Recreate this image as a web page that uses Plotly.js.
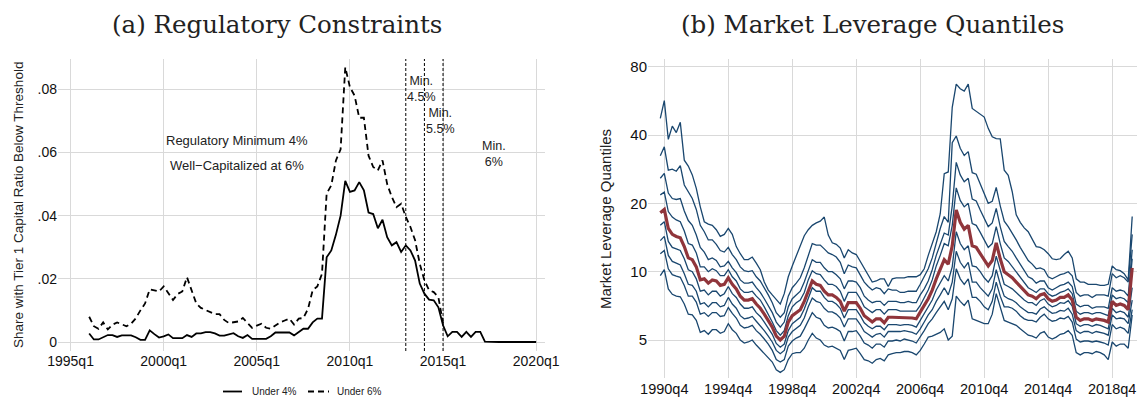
<!DOCTYPE html>
<html>
<head>
<meta charset="utf-8">
<script src="https://cdn.plot.ly/plotly-3.0.1.min.js"></script>
<style>html,body{margin:0;padding:0;background:#fff;}#chart{width:1137px;height:401px;}</style>
</head>
<body>
<div id="chart"></div>
<script>
// ---------- Panel (a): share of banks below thresholds (quarterly) ----------
const under4Start = '1996q1';
const under4 = [
0.0027,0.0008,0.0008,0.0015,0.0022,0.0022,0.0016,0.0021,0.0021,0.0021,
0.0015,0.0007,0.0007,0.0037,0.0025,0.0014,0.0018,0.0024,0.0012,0.0012,
0.0012,0.0022,0.0016,0.0027,0.0027,0.0031,0.0031,0.0027,0.0020,0.0020,
0.0024,0.0028,0.0018,0.0013,0.0022,0.0010,0.0010,0.0010,0.0010,0.0018,
0.0030,0.0030,0.0030,0.0030,0.0021,0.0032,0.0042,0.0042,0.0062,0.0074,
0.0074,0.0268,0.0290,0.0340,0.0400,0.0510,0.0475,0.0480,0.0506,0.0480,
0.0410,0.0405,0.0360,0.0387,0.0332,0.0306,0.0316,0.0285,0.0306,0.0290,
0.0258,0.0185,0.0153,0.0134,0.0132,0.0110,0.0053,0.0018,0.0032,0.0032,
0.0016,0.0032,0.0016,0.0032,0.0032,0.0001,0,0,0,0,
0,0,0,0,0,0,0];
const under6Start = '1996q1';
const under6 = [
0.0080,0.0050,0.0042,0.0062,0.0040,0.0055,0.0062,0.0055,0.0050,0.0058,
0.0075,0.0100,0.0122,0.0167,0.0164,0.0160,0.0176,0.0155,0.0133,0.0152,
0.0160,0.0205,0.0165,0.0122,0.0108,0.0102,0.0095,0.0088,0.0088,0.0070,
0.0060,0.0062,0.0065,0.0076,0.0060,0.0045,0.0052,0.0058,0.0045,0.0042,
0.0052,0.0062,0.0068,0.0074,0.0055,0.0074,0.0076,0.0105,0.0164,0.0176,
0.0216,0.0470,0.0496,0.0575,0.0610,0.0870,0.0807,0.0780,0.0710,0.0710,
0.0590,0.0554,0.0543,0.0575,0.0500,0.0459,0.0427,0.0438,0.0396,0.0364,
0.0322,0.0248,0.0195,0.0164,0.0158,0.0142,0.0060];
const ruleDates = ['2013q1','2014q1','2015q1'];
const leftTickLabels = ['1995q1','2000q1','2005q1','2010q1','2015q1','2020q1'];
const leftYTicks = [0,0.02,0.04,0.06,0.08];
const leftYTickText = ['0','.02','.04','.06','.08'];

// ---------- Panel (b): market leverage quantiles (quarterly, log scale) ----------
const levStart = '1990q3';
const lev90 = [
47.4,56.7,38.3,43.8,41.0,45.5,31.0,29.2,26.7,23.3,
19.3,16.6,16.2,16.0,15.3,14.3,14.6,15.5,14.6,12.9,
12.0,11.3,11.3,11.6,10.9,10.2,9.0,8.3,7.9,7.5,
7.2,8.0,9.5,10.6,11.8,13.2,14.4,15.3,16.0,16.4,
16.7,17.4,14.5,13.4,13.2,12.7,11.5,12.5,12.1,11.9,
11.1,10.3,9.6,9.0,9.1,9.3,9.3,8.6,9.3,9.4,
9.4,9.4,9.5,9.5,9.5,9.7,10.3,11.8,13.2,15.0,
18.0,27.0,27.5,53.0,67.0,64.0,62.5,67.0,52.4,51.0,
49.5,48.0,42.8,39.3,38.6,38.5,28.0,26.6,22.5,17.8,
16.5,15.6,15.0,13.8,12.9,12.8,12.5,12.0,11.4,11.3,
11.4,11.9,12.3,11.5,9.3,9.0,9.0,8.8,8.8,8.8,
8.7,8.7,8.8,10.6,10.2,10.1,9.8,9.2,17.5];
const lev80 = [
32.4,35.5,28.0,28.3,27.7,29.3,24.1,22.5,21.0,18.8,
16.0,15.0,13.8,13.8,13.2,12.4,12.2,12.8,11.9,11.3,
10.5,10.1,10.0,10.1,9.5,9.1,8.5,7.9,7.3,6.6,
6.3,6.6,7.8,8.5,8.9,9.4,10.4,11.9,13.3,13.1,
13.1,12.6,12.1,11.9,11.6,11.0,9.8,10.7,10.5,10.4,
9.7,9.0,8.6,8.3,8.5,8.4,8.0,8.4,8.3,8.3,
8.1,8.1,8.2,8.2,8.2,8.8,9.5,10.3,11.5,13.5,
15.5,17.5,16.5,37.0,39.6,35.0,32.5,33.8,27.3,26.9,
24.4,22.0,20.0,20.4,23.5,19.5,16.7,15.8,14.8,13.8,
12.8,11.9,11.2,10.8,10.3,10.4,10.2,9.5,9.3,9.5,
9.7,9.8,10.0,9.6,8.1,7.8,7.9,7.9,7.7,7.9,
7.9,7.9,7.8,9.8,9.4,9.6,9.4,9.0,14.6];
const lev70 = [
25.8,27.1,22.2,21.0,20.8,21.0,18.5,16.8,16.0,14.5,
12.8,12.2,11.3,11.5,11.2,10.5,10.6,11.1,10.4,9.9,
9.2,8.9,8.9,9.0,8.5,8.1,7.6,7.1,6.6,6.0,
5.7,6.0,7.0,7.6,7.9,8.2,9.0,10.2,11.3,11.0,
11.0,10.4,10.0,10.0,9.7,9.3,8.4,9.1,9.1,9.0,
8.5,7.8,7.5,7.3,7.4,7.4,7.1,7.4,7.4,7.4,
7.3,7.3,7.4,7.3,7.3,7.9,8.4,9.1,10.2,11.8,
13.2,14.8,14.5,19.5,30.3,26.7,24.9,25.8,20.9,20.5,
18.7,17.1,15.8,16.4,19.0,15.8,13.6,12.9,12.3,11.5,
10.8,10.0,9.5,9.3,8.9,9.1,9.1,8.5,8.3,8.5,
8.7,8.8,9.0,8.6,7.2,7.0,7.1,7.1,6.9,7.0,
7.0,7.0,6.9,8.5,8.2,8.3,8.2,7.8,12.5];
const lev60 = [
21.8,22.4,18.4,17.4,16.9,16.6,15.1,13.3,13.1,12.1,
10.5,10.5,10.0,10.3,10.1,9.6,9.6,10.2,9.5,9.1,
8.4,8.1,8.1,8.2,7.8,7.5,7.0,6.5,6.0,5.5,
5.25,5.5,6.4,7.0,7.3,7.5,8.1,9.2,10.1,9.8,
9.7,9.2,8.8,8.8,8.6,8.2,7.4,8.1,8.1,8.1,
7.6,7.0,6.8,6.6,6.8,6.8,6.5,6.8,6.8,6.8,
6.7,6.7,6.7,6.7,6.7,7.1,7.7,8.3,9.2,10.6,
11.8,13.3,13.0,16.0,23.4,20.6,19.3,20.0,16.3,16.0,
14.9,13.7,12.8,13.3,15.8,13.3,11.5,11.1,10.5,10.0,
9.4,8.9,8.5,8.3,8.1,8.4,8.4,8.0,7.8,7.9,
8.1,8.2,8.4,8.0,6.7,6.5,6.6,6.6,6.5,6.6,
6.6,6.5,6.4,7.9,7.6,7.7,7.6,7.3,11.4];
const lev50 = [
18.2,18.8,15.5,14.6,14.3,14.1,12.9,11.5,11.3,10.5,
9.2,9.3,8.9,9.2,9.1,8.7,8.8,9.4,8.8,8.4,
7.8,7.5,7.5,7.6,7.2,6.9,6.5,6.1,5.7,5.2,
5.0,5.2,6.0,6.4,6.6,6.8,7.4,8.3,9.1,8.8,
8.7,8.2,7.9,7.9,7.7,7.4,6.7,7.3,7.3,7.3,
6.9,6.4,6.2,6.0,6.2,6.2,5.95,6.3,6.3,6.3,
6.25,6.3,6.3,6.25,6.2,6.6,7.1,7.6,8.3,9.3,
10.2,11.3,10.8,13.0,18.7,16.5,15.4,16.0,13.0,12.8,
12.0,11.2,10.6,11.2,13.4,11.4,10.0,9.7,9.4,9.0,
8.6,8.2,7.9,7.8,7.6,7.9,8.0,7.6,7.4,7.5,
7.7,7.7,7.9,7.5,6.3,6.1,6.2,6.2,6.1,6.2,
6.15,6.1,6.0,7.4,7.1,7.2,7.1,6.8,10.4];
const lev40 = [
16.0,16.6,13.6,12.8,12.6,12.4,11.4,10.2,10.0,9.3,
8.2,8.3,7.9,8.2,8.2,7.8,8.0,8.6,8.0,7.7,
7.2,6.9,6.9,7.0,6.6,6.35,6.0,5.65,5.3,4.83,
4.65,4.8,5.5,5.9,6.1,6.3,6.85,7.7,8.5,8.2,
8.2,7.7,7.4,7.4,7.2,6.9,6.25,6.8,6.8,6.8,
6.4,5.95,5.75,5.6,5.75,5.75,5.55,5.85,5.85,5.85,
5.8,5.85,5.85,5.8,5.7,6.1,6.5,7.0,7.5,8.3,
8.9,9.6,9.1,10.5,15.0,13.3,12.5,13.0,10.6,10.5,
10.0,9.4,9.0,9.6,11.7,10.0,8.8,8.6,8.4,8.1,
7.8,7.5,7.3,7.3,7.1,7.45,7.6,7.2,7.0,7.1,
7.3,7.25,7.45,7.05,5.9,5.75,5.85,5.85,5.75,5.85,
5.8,5.7,5.6,6.9,6.6,6.7,6.6,6.3,8.5];
const lev30 = [
13.7,14.3,11.8,11.1,10.9,10.7,9.8,8.8,8.7,8.2,
7.2,7.3,7.0,7.3,7.3,7.0,7.1,7.7,7.2,6.9,
6.4,6.2,6.25,6.35,6.05,5.8,5.5,5.2,4.9,4.5,
4.35,4.5,5.15,5.45,5.6,5.8,6.25,7.0,7.65,7.4,
7.3,6.9,6.65,6.65,6.5,6.25,5.7,6.2,6.2,6.2,
5.85,5.45,5.3,5.15,5.3,5.35,5.15,5.45,5.45,5.45,
5.45,5.5,5.45,5.4,5.3,5.6,6.0,6.45,6.8,7.4,
7.9,8.5,7.9,9.0,12.3,11.0,10.4,11.0,9.0,9.0,
8.5,8.1,7.8,8.4,10.2,8.8,7.8,7.6,7.5,7.3,
7.0,6.8,6.6,6.6,6.5,6.85,7.0,6.75,6.55,6.6,
6.75,6.7,6.9,6.5,5.5,5.35,5.45,5.45,5.35,5.45,
5.4,5.35,5.25,6.45,6.2,6.25,6.2,5.9,7.5];
const lev20 = [
12.0,12.4,10.3,9.7,9.55,9.45,8.7,7.8,7.8,7.35,
6.5,6.6,6.35,6.6,6.6,6.35,6.4,6.95,6.55,6.25,
5.8,5.65,5.7,5.8,5.5,5.3,5.05,4.8,4.5,4.1,
4.0,4.1,4.7,4.95,5.1,5.2,5.6,6.1,6.6,6.3,
6.2,5.8,5.65,5.7,5.6,5.45,4.95,5.45,5.45,5.5,
5.2,4.85,4.75,4.6,4.8,4.8,4.65,4.95,4.95,5.0,
4.95,5.05,5.0,4.95,4.85,5.15,5.5,5.9,6.2,6.6,
7.0,7.4,6.8,7.6,10.3,9.3,8.8,9.3,7.7,7.7,
7.4,7.0,6.8,7.4,9.0,7.8,7.0,7.0,6.9,6.7,
6.4,6.2,6.1,6.1,6.0,6.3,6.5,6.2,6.05,6.1,
6.25,6.2,6.35,6.0,5.05,4.9,4.95,4.95,4.9,4.95,
4.9,4.85,4.75,5.85,5.6,5.7,5.6,5.35,6.8];
const lev10 = [
9.6,10.2,8.4,7.95,7.8,7.75,7.2,6.5,6.45,6.1,
5.4,5.5,5.3,5.55,5.55,5.35,5.45,5.9,5.55,5.35,
5.0,4.85,4.9,5.0,4.75,4.55,4.4,4.2,4.0,3.7,
3.6,3.7,4.1,4.35,4.4,4.4,4.6,5.0,5.35,5.1,
5.0,4.75,4.65,4.7,4.6,4.5,4.1,4.5,4.55,4.6,
4.35,4.1,4.05,3.95,4.1,4.15,4.05,4.3,4.35,4.4,
4.4,4.45,4.45,4.4,4.3,4.5,4.8,5.15,5.2,5.3,
5.4,5.6,5.0,5.2,7.8,7.4,7.1,7.5,6.2,6.1,
6.0,5.9,5.9,6.5,8.0,6.9,6.1,6.0,5.9,5.8,
5.6,5.4,5.25,5.2,5.1,5.35,5.45,5.15,5.05,5.15,
5.3,5.35,5.5,5.25,4.4,4.3,4.4,4.4,4.35,4.45,
4.4,4.3,4.1,4.9,4.7,4.8,4.8,4.6,6.45];
const rightTickLabels = ['1990q4','1994q4','1998q4','2002q4','2006q4','2010q4','2014q4','2018q4'];
const rightYTicks = [5,10,20,40,80];

// ---------- helpers ----------
function qnum(lbl){ const p = lbl.split('q'); return (+p[0])*4 + (+p[1]) - 1; }
function xsFrom(start, n){ const s = qnum(start); return Array.from({length:n}, (_, i) => s + i); }
const W = 1137, H = 401;
const px = x => x / W, py = y => 1 - y / H;

const BLUE = '#1a476f', RED = '#90353b';
const sans = 'Liberation Sans, Arial, Helvetica, sans-serif';
const serif = 'DejaVu Serif, Liberation Serif, serif';

const traces = [];
traces.push({x: xsFrom(under4Start, under4.length), y: under4, xaxis:'x', yaxis:'y', mode:'lines',
  line:{color:'#000', width:1.8}, hoverinfo:'skip'});
traces.push({x: xsFrom(under6Start, under6.length), y: under6, xaxis:'x', yaxis:'y', mode:'lines',
  line:{color:'#000', width:1.8, dash:'6px,4px'}, hoverinfo:'skip'});
[lev90, lev80, lev70, lev60, lev40, lev30, lev20, lev10].forEach(s => {
  traces.push({x: xsFrom(levStart, s.length), y: s, xaxis:'x2', yaxis:'y2', mode:'lines',
    line:{color: BLUE, width:1.3}, hoverinfo:'skip'});
});
traces.push({x: xsFrom(levStart, lev50.length), y: lev50, xaxis:'x2', yaxis:'y2', mode:'lines',
  line:{color: RED, width:3.2}, hoverinfo:'skip'});

const l0 = qnum('1995q1'), r0 = qnum('1990q4');
const grid = '#d9d9d9';

const shapes = ruleDates.map(d => ({type:'line', xref:'x', yref:'y domain', x0: qnum(d), x1: qnum(d), y0:0, y1:1,
  line:{color:'#000', width:1, dash:'3px,2px'}}));
shapes.push({type:'line', xref:'paper', yref:'paper', x0:px(223), x1:px(242), y0:py(391.5), y1:py(391.5), line:{color:'#000', width:1.8}});
shapes.push({type:'line', xref:'paper', yref:'paper', x0:px(308), x1:px(329), y0:py(391.5), y1:py(391.5), line:{color:'#000', width:1.8, dash:'6px,4px'}});

function ann(text, x, y, size, opts){
  return Object.assign({text, xref:'paper', yref:'paper', x:px(x), y:py(y), xanchor:'center', yanchor:'middle',
    showarrow:false, font:{family:sans, size:size, color:'#222'}}, opts || {});
}
const annotations = [
  ann('(a) Regulatory Constraints', 277, 24, 24.5, {font:{family:serif, size:24.5, color:'#222'}}),
  ann('(b) Market Leverage Quantiles', 872, 24, 24.5, {font:{family:serif, size:24.5, color:'#222'}}),
  ann('Share with Tier 1 Capital Ratio Below Threshold', 18, 205, 13.5, {textangle:-90}),
  ann('Market Leverage Quantiles', 606, 219, 15, {textangle:-90}),
  ann('Regulatory Minimum 4%', 237, 140, 13),
  ann('Well\u2212Capitalized at 6%', 237, 165, 13),
  ann('Min.<br>4.5%', 421.5, 89, 12.5),
  ann('Min.<br>5.5%', 440.5, 120.5, 12.5),
  ann('Min.<br>6%', 493.5, 153.5, 12.5),
  ann('Under 4%', 250, 391.5, 10, {xanchor:'left'}),
  ann('Under 6%', 335, 391.5, 10, {xanchor:'left'})
];

const layout = {
  width: W, height: H, margin:{l:0, r:0, t:0, b:0}, paper_bgcolor:'#fff', plot_bgcolor:'#fff',
  showlegend:false, hovermode:false,
  xaxis:{domain:[px(58), px(545)], range:[l0 - 2.7, l0 + 101.9], anchor:'y',
    tickvals: leftTickLabels.map(qnum), ticktext: leftTickLabels, ticklabeloverflow:'allow',
    showgrid:true, gridcolor:grid, gridwidth:1, zeroline:false, showline:false, ticks:'',
    tickfont:{family:sans, size:14, color:'#111'}},
  yaxis:{domain:[py(351), py(59)], range:[-0.00285, 0.0896], anchor:'x',
    tickvals: leftYTicks, ticktext: leftYTickText,
    showgrid:true, gridcolor:grid, gridwidth:1, zeroline:false, showline:false, ticks:'',
    tickfont:{family:sans, size:14, color:'#111'}},
  xaxis2:{domain:[px(648), 1], range:[r0 - 4.075, r0 + 118.2], anchor:'y2',
    tickvals: rightTickLabels.map(qnum), ticktext: rightTickLabels, ticklabeloverflow:'allow',
    showgrid:true, gridcolor:grid, gridwidth:1, zeroline:false, showline:false, ticks:'',
    tickfont:{family:sans, size:14.5, color:'#111'}},
  yaxis2:{domain:[py(378), py(59)], type:'log', range:[0.5316, 1.937], anchor:'x2',
    tickvals: rightYTicks, ticktext: rightYTicks.map(String),
    showgrid:true, gridcolor:grid, gridwidth:1, zeroline:false, showline:false, ticks:'',
    tickfont:{family:sans, size:15, color:'#111'}},
  shapes, annotations
};

Plotly.newPlot('chart', traces, layout, {displayModeBar:false, staticPlot:true});
</script>
</body>
</html>
